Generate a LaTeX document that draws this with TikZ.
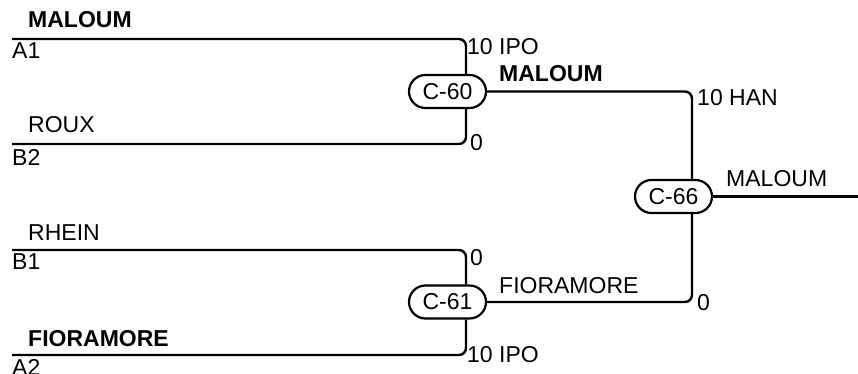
\documentclass[tikz,border=0pt]{standalone}
\usepackage{fontspec}
\setmainfont{Liberation Sans}
\usetikzlibrary{shapes.misc}
\begin{document}
\begin{tikzpicture}[x=1pt,y=-1pt,
  conn/.style={line width=2.4pt,rounded corners=7pt},
  pill/.style={rounded rectangle,draw,line width=2.2pt,minimum width=77pt,minimum height=33pt,inner sep=0pt,font=\fontsize{23}{25}\selectfont},
  lbl/.style={anchor=base west,inner sep=0pt,font=\fontsize{23}{25}\selectfont},
  blbl/.style={lbl,font=\fontsize{23}{25}\selectfont\bfseries}]
\useasboundingbox (0,0) rectangle (858,374);
% matches
\node[pill] (c60) at (447.5,91.5) {C-60};
\node[pill] (c61) at (447.5,302) {C-61};
\node[pill] (c66) at (673.5,196.5) {C-66};
% line starts
\coordinate (a1) at (12,39);
\coordinate (b2) at (12,144);
\coordinate (b1) at (12,250);
\coordinate (a2) at (12,355);
\coordinate (out) at (858,196.5);
% connectors
\draw[conn] (a1) -| ([xshift=18.5pt]c60.north);
\draw[conn] (b2) -| ([xshift=18.5pt]c60.south);
\draw[conn] (b1) -| ([xshift=18.5pt]c61.north);
\draw[conn] (a2) -| ([xshift=18.5pt]c61.south);
\draw[conn] (c60.east) -| ([xshift=18.5pt]c66.north);
\draw[conn] (c61.east) -| ([xshift=18.5pt]c66.south);
\draw[conn] (c66.east) -- (out);
% left labels
\node[blbl] (nmaloum) at (28,28) {MALOUM};
\node[lbl] (na1) at (12,59) {A1};
\node[lbl] (nroux) at (28,133) {ROUX};
\node[lbl] (nb2) at (12,165) {B2};
\node[lbl] (nrhein) at (28,240) {RHEIN};
\node[lbl] (nb1) at (12,269) {B1};
\node[blbl] (nfior) at (28,346) {FIORAMORE};
\node[lbl] (na2) at (12,375) {A2};
% right labels
\node[lbl] (s1) at (467,55) {10 IPO};
\node[lbl] (s2) at (470,151) {0};
\node[lbl] (s3) at (470,265) {0};
\node[lbl] (s4) at (467,362) {10 IPO};
\node[blbl] (w60) at (499,82) {MALOUM};
\node[lbl] (w61) at (499,293) {FIORAMORE};
\node[lbl] (s5) at (697,106) {10 HAN};
\node[lbl] (s6) at (697,310) {0};
\node[lbl] (w66) at (726,186) {MALOUM};
\end{tikzpicture}
\end{document}
